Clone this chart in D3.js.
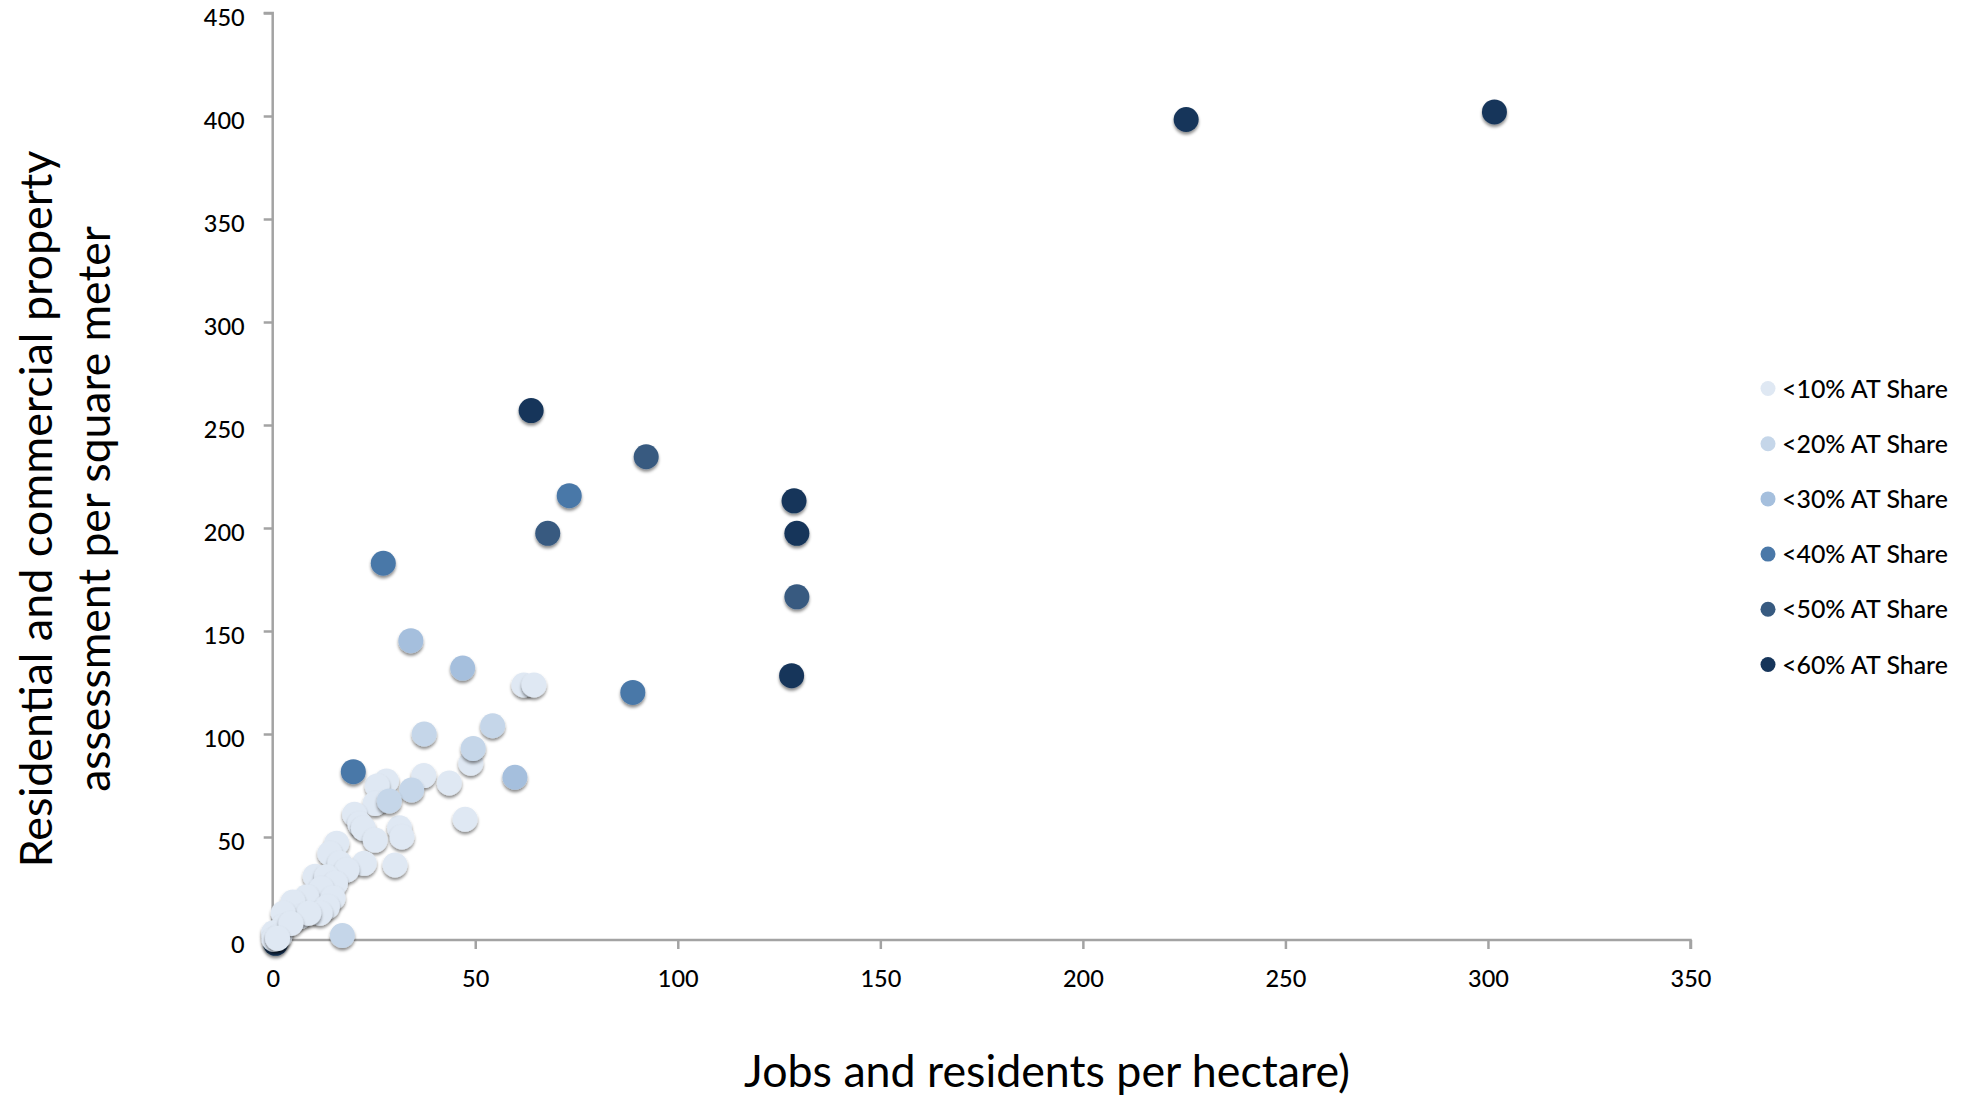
<!DOCTYPE html>
<html><head><meta charset="utf-8">
<script src="https://cdn.jsdelivr.net/npm/d3@7"></script>
<style>
html,body{margin:0;padding:0;background:#fff;}
text{font-family:Lato,"Open Sans",sans-serif;fill:#000;}
</style></head>
<body><svg id="c" width="1972" height="1103"></svg>
<script>
// ---- data ----
const seriesNames = ["<10% AT Share","<20% AT Share","<30% AT Share","<40% AT Share","<50% AT Share","<60% AT Share"];
const seriesColors = ["#dfe8f3","#c5d6e9","#a5bfdd","#4a78a8","#375a80","#16355a"];
const at10 = [[62.0,123.8],[64.5,123.8],[48.9,85.8],[28.1,77.2],[37.3,79.8],[43.6,76.2],[25.8,74.8],[25.3,66.3],[20.2,61],[21.5,56.4],[47.5,58.6],[31.3,54.5],[22.4,54.2],[31.9,50],[25.3,48.5],[15.8,47],[14.1,42],[22.6,37.2],[30.2,36.4],[16.6,37.2],[18.3,34],[10.5,31],[13.3,30.7],[15.5,27.5],[12,25],[8.4,21],[5.0,18.5],[14.9,20.4],[13.5,16.2],[11.7,13],[6.7,11.3],[8.9,13],[2.6,13],[2.6,6.5],[0.2,3.5],[1.8,2],[4.5,8],[0.3,0.3],[1.2,0.8]];
const at20 = [[37.4,100],[54.3,104],[49.5,93],[34.3,72.8],[28.8,67.5],[17.2,2.2]];
const at30 = [[34.1,145.3],[46.9,132],[59.8,79]];
const at40 = [[27.3,182.9],[73.2,215.7],[88.9,120.2],[19.9,81.7]];
const at50 = [[92.2,234.6],[67.9,197.4],[129.4,166.6]];
const at60 = [[0.7,-1.6],[63.8,257],[128.7,213.2],[129.4,197.4],[128.1,128.3],[225.5,398.3],[301.6,402]];
const xTicks = [0,50,100,150,200,250,300,350];
const yTicks = [0,50,100,150,200,250,300,350,400,450];
const xTitle = "Jobs and residents per hectare)";
const yTitleLines = ["Residential and commercial property","assessment per square meter"];

const series = [at10,at20,at30,at40,at50,at60];
const drawOrder = [5,0,1,2,3,4];

// ---- layout ----
const L=272.7, R=1690.5, T=13, B=940;
const svg = d3.select("#c");
const x = d3.scaleLinear().domain([0,350]).range([L,R]);
const y = d3.scaleLinear().domain([0,450]).range([B,T]);

const defs = svg.append("defs");
const f = defs.append("filter").attr("id","sh").attr("x","-50%").attr("y","-50%").attr("width","200%").attr("height","200%");
f.append("feDropShadow").attr("dx",0).attr("dy",2.5).attr("stdDeviation",1.6).attr("flood-color","#000").attr("flood-opacity",0.45);

// axes
const axisColor = "#a3a3a3";
const gx = svg.append("g").attr("transform",`translate(0,${B})`)
  .call(d3.axisBottom(x).tickValues(xTicks).tickSize(9).tickPadding(21).tickFormat(d3.format("d")));
const gy = svg.append("g").attr("transform",`translate(${L},0)`)
  .call(d3.axisLeft(y).tickValues(yTicks).tickSize(9).tickPadding(19).tickFormat(d3.format("d")));
[gx,gy].forEach(g=>{
  g.select(".domain").attr("stroke",axisColor).attr("stroke-width",2.5);
  g.selectAll(".tick line").attr("stroke",axisColor).attr("stroke-width",2.5);
  g.selectAll(".tick text").attr("font-size",23.5).attr("fill","#000").style("font-family","Lato").style("font-weight",500);
});
gy.selectAll(".tick text").attr("dy","0.55em");
gy.select(".domain").attr("d",`M-9,${T}H0V${B}`);
gx.select(".domain").attr("d",`M${L},0H${R}V9`);

// points
const pts = svg.append("g");
drawOrder.forEach(si=>{
  pts.append("g").selectAll("circle").data(series[si]).join("circle")
    .attr("cx",d=>x(d[0])).attr("cy",d=>y(d[1])).attr("r",12.5)
    .attr("fill",seriesColors[si]).attr("filter","url(#sh)");
});

// fit helper
function fit(sel, target){
  const w = sel.node().getComputedTextLength();
  const fs = parseFloat(sel.attr("font-size"));
  sel.attr("font-size", fs*target/w);
}

// legend
const lg = svg.append("g");
seriesNames.forEach((n,i)=>{
  const cy = 388.5 + i*55.2;
  lg.append("circle").attr("cx",1768).attr("cy",cy).attr("r",7.5).attr("fill",seriesColors[i]);
  const t = lg.append("text").attr("x",1782).attr("y",cy+9).attr("font-size",23).style("font-weight",500).text(n);
  fit(t,166);
});

// titles
const xt = svg.append("text").attr("x",1047).attr("y",1087).attr("text-anchor","middle").attr("font-size",40).text(xTitle);
fit(xt,606);
const yl1 = svg.append("text").attr("transform","translate(52,509) rotate(-90)").attr("text-anchor","middle").attr("font-size",40).text(yTitleLines[0]);
fit(yl1,717);
const yl2 = svg.append("text").attr("transform","translate(110,509) rotate(-90)").attr("text-anchor","middle").attr("font-size",40).text(yTitleLines[1]);
fit(yl2,566);
</script></body></html>
